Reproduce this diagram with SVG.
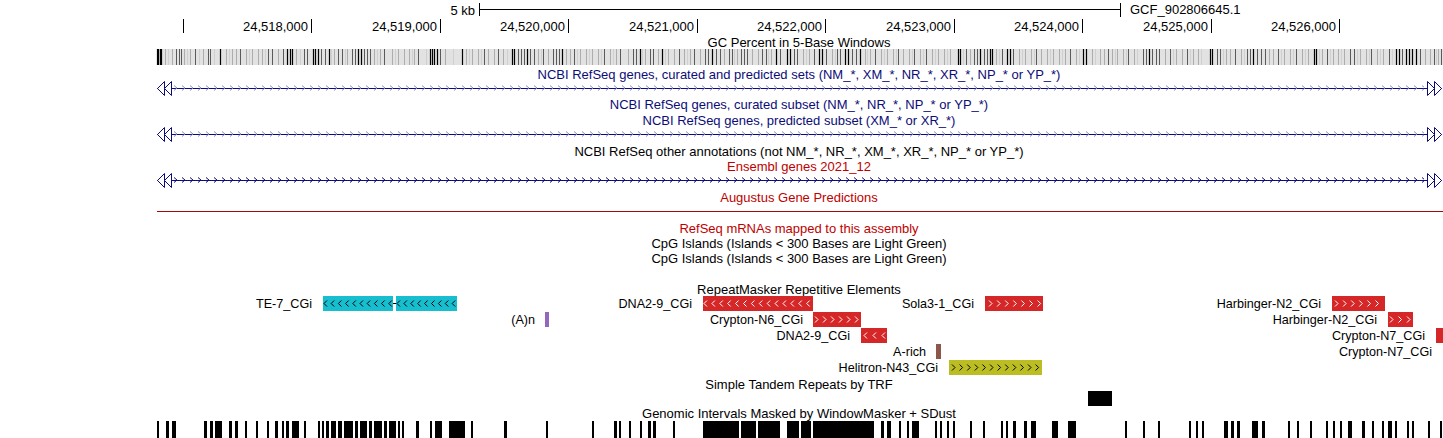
<svg xmlns="http://www.w3.org/2000/svg" width="1443" height="438" viewBox="0 0 1443 438">
<style>
text{font-family:"Liberation Sans",Arial,Helvetica,sans-serif}
.t{font-size:13px;text-anchor:middle;fill:#000}
.nv{fill:#0c0c78}
.rd{fill:#be0000}
.rl{font-size:13px;text-anchor:end;fill:#000}
.lb{font-size:12.6px;text-anchor:end;fill:#000}
.ax{stroke:#000;stroke-width:1;fill:none}
.gl{stroke:#0c0c78;stroke-width:1;fill:none}
.tri{stroke:#0c0c78;stroke-width:1;fill:#fff}
.cw{stroke:#fff;stroke-width:1;fill:none}
.cb{stroke:#000;stroke-width:1;fill:none}
.rep{fill:#d62728}
</style>
<defs>
<pattern id="chL" patternUnits="userSpaceOnUse" x="172" y="83" width="8" height="46">
<path d="M2,2.5 l3,2.5 -3,2.5" fill="none" stroke="#8c8cc8" stroke-width="1"/>
</pattern>
<pattern id="chD" patternUnits="userSpaceOnUse" x="172" y="83" width="8" height="46">
<path d="M2,2.5 l3,2.5 -3,2.5" fill="none" stroke="#0c0c78" stroke-width="1"/>
</pattern>
</defs>
<rect width="1443" height="438" fill="#fff"/>

<g id="ruler">
<text class="rl" x="475" y="14.5">5 kb</text>
<path class="ax" d="M479.5 3v13M479.5 9.5H1120.5M1120.5 3v14"/>
<text x="1130" y="14" font-size="13" fill="#000">GCF_902806645.1</text>
<path class="ax" d="M183.5 19v14M311.5 19v14M440.5 19v14M568.5 19v14M697.5 19v14M825.5 19v14M954.5 19v14M1082.5 19v14M1211.5 19v14M1339.5 19v14"/>
<text class="rl" x="308" y="31">24,518,000</text>
<text class="rl" x="437" y="31">24,519,000</text>
<text class="rl" x="565" y="31">24,520,000</text>
<text class="rl" x="694" y="31">24,521,000</text>
<text class="rl" x="822" y="31">24,522,000</text>
<text class="rl" x="951" y="31">24,523,000</text>
<text class="rl" x="1079" y="31">24,524,000</text>
<text class="rl" x="1208" y="31">24,525,000</text>
<text class="rl" x="1336" y="31">24,526,000</text>
</g>

<g id="gc-percent">
<text class="t" x="799" y="46.5">GC Percent in 5-Base Windows</text>
<rect x="157" y="49" width="1286" height="16" fill="#e2e2e2"/>
<path stroke="#d0d0d0" stroke-width="1" d="M168.5 49v16M187.5 49v16M199.5 49v16M214.5 49v16M229.5 49v16M249.5 49v16M265.5 49v16M300.5 49v16M331.5 49v16M345.5 49v16M377.5 49v16M395.5 49v16M412.5 49v16M426.5 49v16M453.5 49v16M469.5 49v16M481.5 49v16M507.5 49v16M541.5 49v16M577.5 49v16M589.5 49v16M601.5 49v16M613.5 49v16M642.5 49v16M665.5 49v16M687.5 49v16M734.5 49v16M768.5 49v16M806.5 49v16M835.5 49v16M867.5 49v16M884.5 49v16M896.5 49v16M912.5 49v16M923.5 49v16M935.5 49v16M947.5 49v16M963.5 49v16M999.5 49v16M1022.5 49v16M1034.5 49v16M1050.5 49v16M1062.5 49v16M1079.5 49v16M1095.5 49v16M1115.5 49v16M1126.5 49v16M1137.5 49v16M1173.5 49v16M1190.5 49v16M1201.5 49v16M1223.5 49v16M1244.5 49v16M1281.5 49v16M1293.5 49v16M1305.5 49v16M1319.5 49v16M1330.5 49v16M1341.5 49v16M1357.5 49v16M1369.5 49v16M1380.5 49v16M1392.5 49v16M1436.5 49v16"/>
<path stroke="#adadad" stroke-width="1" d="M165.5 49v16M172.5 49v16M184.5 49v16M190.5 49v16M203.5 49v16M226.5 49v16M232.5 49v16M236.5 49v16M246.5 49v16M252.5 49v16M258.5 49v16M262.5 49v16M278.5 49v16M296.5 49v16M334.5 49v16M347.5 49v16M374.5 49v16M380.5 49v16M392.5 49v16M398.5 49v16M404.5 49v16M409.5 49v16M414.5 49v16M445.5 49v16M466.5 49v16M472.5 49v16M478.5 49v16M488.5 49v16M494.5 49v16M503.5 49v16M538.5 49v16M548.5 49v16M566.5 49v16M570.5 49v16M580.5 49v16M586.5 49v16M592.5 49v16M598.5 49v16M610.5 49v16M616.5 49v16M628.5 49v16M645.5 49v16M658.5 49v16M668.5 49v16M674.5 49v16M684.5 49v16M690.5 49v16M700.5 49v16M724.5 49v16M737.5 49v16M752.5 49v16M758.5 49v16M771.5 49v16M803.5 49v16M809.5 49v16M832.5 49v16M865.5 49v16M870.5 49v16M881.5 49v16M887.5 49v16M893.5 49v16M903.5 49v16M909.5 49v16M920.5 49v16M932.5 49v16M938.5 49v16M944.5 49v16M950.5 49v16M970.5 49v16M996.5 49v16M1019.5 49v16M1025.5 49v16M1031.5 49v16M1041.5 49v16M1047.5 49v16M1053.5 49v16M1059.5 49v16M1065.5 49v16M1076.5 49v16M1092.5 49v16M1100.5 49v16M1104.5 49v16M1112.5 49v16M1117.5 49v16M1123.5 49v16M1134.5 49v16M1165.5 49v16M1176.5 49v16M1182.5 49v16M1193.5 49v16M1198.5 49v16M1226.5 49v16M1230.5 49v16M1241.5 49v16M1269.5 49v16M1273.5 49v16M1284.5 49v16M1290.5 49v16M1302.5 49v16M1308.5 49v16M1322.5 49v16M1333.5 49v16M1338.5 49v16M1344.5 49v16M1360.5 49v16M1366.5 49v16M1377.5 49v16M1383.5 49v16M1425.5 49v16M1430.5 49v16M1438.5 49v16"/>
<path stroke="#5a5a5a" stroke-width="1" d="M176.5 49v16M179.5 49v16M181.5 49v16M195.5 49v16M208.5 49v16M210.5 49v16M240.5 49v16M268.5 49v16M272.5 49v16M283.5 49v16M304.5 49v16M307.5 49v16M321.5 49v16M325.5 49v16M338.5 49v16M342.5 49v16M352.5 49v16M355.5 49v16M364.5 49v16M367.5 49v16M370.5 49v16M384.5 49v16M418.5 49v16M440.5 49v16M484.5 49v16M498.5 49v16M518.5 49v16M521.5 49v16M524.5 49v16M530.5 49v16M534.5 49v16M543.5 49v16M553.5 49v16M556.5 49v16M559.5 49v16M574.5 49v16M604.5 49v16M620.5 49v16M633.5 49v16M636.5 49v16M650.5 49v16M653.5 49v16M679.5 49v16M694.5 49v16M705.5 49v16M708.5 49v16M716.5 49v16M720.5 49v16M729.5 49v16M732.5 49v16M741.5 49v16M744.5 49v16M747.5 49v16M762.5 49v16M766.5 49v16M780.5 49v16M794.5 49v16M797.5 49v16M814.5 49v16M826.5 49v16M837.5 49v16M840.5 49v16M852.5 49v16M856.5 49v16M875.5 49v16M898.5 49v16M914.5 49v16M926.5 49v16M966.5 49v16M974.5 49v16M977.5 49v16M984.5 49v16M987.5 49v16M1002.5 49v16M1013.5 49v16M1036.5 49v16M1070.5 49v16M1108.5 49v16M1128.5 49v16M1143.5 49v16M1146.5 49v16M1152.5 49v16M1156.5 49v16M1159.5 49v16M1170.5 49v16M1187.5 49v16M1217.5 49v16M1220.5 49v16M1235.5 49v16M1247.5 49v16M1250.5 49v16M1257.5 49v16M1261.5 49v16M1265.5 49v16M1278.5 49v16M1296.5 49v16M1327.5 49v16M1350.5 49v16M1354.5 49v16M1371.5 49v16M1389.5 49v16M1402.5 49v16M1420.5 49v16M1434.5 49v16M1441.5 49v16"/>
<path stroke="#000" stroke-width="1.2" d="M157.5 49v16M158.5 49v16M160.5 49v16M161.5 49v16M220.5 49v16M287.5 49v16M290.5 49v16M292.5 49v16M313.5 49v16M315.5 49v16M318.5 49v16M329.5 49v16M358.5 49v16M361.5 49v16M430.5 49v16M432.5 49v16M434.5 49v16M437.5 49v16M462.5 49v16M512.5 49v16M514.5 49v16M527.5 49v16M562.5 49v16M640.5 49v16M662.5 49v16M712.5 49v16M776.5 49v16M787.5 49v16M790.5 49v16M819.5 49v16M822.5 49v16M845.5 49v16M848.5 49v16M860.5 49v16M958.5 49v16M960.5 49v16M980.5 49v16M990.5 49v16M992.5 49v16M1007.5 49v16M1010.5 49v16M1083.5 49v16M1086.5 49v16M1149.5 49v16M1210.5 49v16M1212.5 49v16M1253.5 49v16M1314.5 49v16M1316.5 49v16M1396.5 49v16M1399.5 49v16M1406.5 49v16M1409.5 49v16M1412.5 49v16M1416.5 49v16"/>
</g>

<g id="refseq-all">
<text class="t nv" x="799" y="78.5">NCBI RefSeq genes, curated and predicted sets (NM_*, XM_*, NR_*, XR_*, NP_* or YP_*)</text>
<path class="gl" d="M157 88.5H1442"/>
<rect x="172" y="83" width="1252" height="11" fill="url(#chL)"/>
<polygon class="tri" points="157.5,88.5 164.5,81.5 164.5,95.5"/>
<polygon class="tri" points="164.5,88.5 171.5,81.5 171.5,95.5"/>
<polygon class="tri" points="1441.5,88.5 1434.5,81.5 1434.5,95.5"/>
<polygon class="tri" points="1434.5,88.5 1427.5,81.5 1427.5,95.5"/>
</g>

<g id="refseq-curated">
<text class="t nv" x="799" y="108.5">NCBI RefSeq genes, curated subset (NM_*, NR_*, NP_* or YP_*)</text>
</g>

<g id="refseq-predicted">
<text class="t nv" x="799" y="124.5">NCBI RefSeq genes, predicted subset (XM_* or XR_*)</text>
<path class="gl" d="M157 134.5H1442"/>
<rect x="172" y="129" width="1252" height="11" fill="url(#chL)"/>
<polygon class="tri" points="157.5,134.5 164.5,127.5 164.5,141.5"/>
<polygon class="tri" points="164.5,134.5 171.5,127.5 171.5,141.5"/>
<polygon class="tri" points="1441.5,134.5 1434.5,127.5 1434.5,141.5"/>
<polygon class="tri" points="1434.5,134.5 1427.5,127.5 1427.5,141.5"/>
</g>

<g id="refseq-other">
<text class="t" x="799" y="155.5" fill="#222">NCBI RefSeq other annotations (not NM_*, NR_*, XM_*, XR_*, NP_* or YP_*)</text>
</g>

<g id="ensembl">
<text class="t rd" x="799" y="170.5">Ensembl genes 2021_12</text>
<path class="gl" d="M157 180.5H1442"/>
<rect x="172" y="175" width="1252" height="11" fill="url(#chD)"/>
<polygon class="tri" points="157.5,180.5 164.5,173.5 164.5,187.5"/>
<polygon class="tri" points="164.5,180.5 171.5,173.5 171.5,187.5"/>
<polygon class="tri" points="1441.5,180.5 1434.5,173.5 1434.5,187.5"/>
<polygon class="tri" points="1434.5,180.5 1427.5,173.5 1427.5,187.5"/>
</g>

<g id="augustus">
<text class="t rd" x="799" y="201.5">Augustus Gene Predictions</text>
<path d="M157 211.5H1443" stroke="#9c0a0a" stroke-width="1"/>
</g>

<g id="refseq-mrnas">
<text class="t rd" x="799" y="232.5">RefSeq mRNAs mapped to this assembly</text>
</g>
<g id="cpg-1">
<text class="t" x="799" y="247.5">CpG Islands (Islands &lt; 300 Bases are Light Green)</text>
</g>
<g id="cpg-2">
<text class="t" x="799" y="262.5">CpG Islands (Islands &lt; 300 Bases are Light Green)</text>
</g>

<g id="repeatmasker">
<text class="t" x="799" y="293.5">RepeatMasker Repetitive Elements</text>
<g id="te-7">
<text class="lb" x="312" y="308">TE-7_CGi</text>
<rect x="323" y="296" width="70" height="15" fill="#17becf"/>
<rect x="396" y="296" width="61" height="15" fill="#17becf"/>
<path class="cb" d="M327,300.5 l-3,3 3,3 m7.2,-6 l-3,3 3,3 m7.2,-6 l-3,3 3,3 m7.2,-6 l-3,3 3,3 m7.2,-6 l-3,3 3,3 m7.2,-6 l-3,3 3,3 m7.2,-6 l-3,3 3,3 m7.2,-6 l-3,3 3,3 m7.2,-6 l-3,3 3,3 m7.2,-6 l-3,3 3,3"/>
<path class="cb" d="M400,300.5 l-3,3 3,3 m6.9,-6 l-3,3 3,3 m6.9,-6 l-3,3 3,3 m6.9,-6 l-3,3 3,3 m6.9,-6 l-3,3 3,3 m6.9,-6 l-3,3 3,3 m6.9,-6 l-3,3 3,3 m6.9,-6 l-3,3 3,3 m6.9,-6 l-3,3 3,3"/>
</g>
<g id="a-n">
<text class="lb" x="535" y="324">(A)n</text>
<rect x="545" y="312" width="4" height="15" fill="#9467bd"/>
</g>
<g id="dna2-9-a">
<text class="lb" x="692" y="308">DNA2-9_CGi</text>
<rect class="rep" x="703" y="296" width="110" height="15"/>
<path class="cw" d="M707,300.5 l-3,3 3,3 m7.9,-6 l-3,3 3,3 m7.9,-6 l-3,3 3,3 m7.9,-6 l-3,3 3,3 m7.9,-6 l-3,3 3,3 m7.9,-6 l-3,3 3,3 m7.9,-6 l-3,3 3,3 m7.9,-6 l-3,3 3,3 m7.9,-6 l-3,3 3,3 m7.9,-6 l-3,3 3,3 m7.9,-6 l-3,3 3,3 m7.9,-6 l-3,3 3,3 m7.9,-6 l-3,3 3,3 m7.9,-6 l-3,3 3,3"/>
</g>
<g id="crypton-n6">
<text class="lb" x="803" y="324">Crypton-N6_CGi</text>
<rect class="rep" x="813" y="312" width="48" height="15"/>
<path class="cw" d="M815,316.5 l3,3 -3,3 m8,-6 l3,3 -3,3 m8,-6 l3,3 -3,3 m8,-6 l3,3 -3,3 m8,-6 l3,3 -3,3 m8,-6 l3,3 -3,3"/>
</g>
<g id="dna2-9-b">
<text class="lb" x="850" y="340">DNA2-9_CGi</text>
<rect class="rep" x="861" y="328" width="26" height="15"/>
<path class="cw" d="M867,332.5 l-3,3 3,3 m9,-6 l-3,3 3,3 m9,-6 l-3,3 3,3"/>
</g>
<g id="a-rich">
<text class="lb" x="926" y="356">A-rich</text>
<rect x="936" y="344" width="5" height="15" fill="#8c564b"/>
</g>
<g id="helitron-n43">
<text class="lb" x="938" y="372">Helitron-N43_CGi</text>
<rect x="949" y="360" width="93" height="15" fill="#bcbd22"/>
<path class="cb" d="M952,364.5 l3,3 -3,3 m7.6,-6 l3,3 -3,3 m7.6,-6 l3,3 -3,3 m7.6,-6 l3,3 -3,3 m7.6,-6 l3,3 -3,3 m7.6,-6 l3,3 -3,3 m7.6,-6 l3,3 -3,3 m7.6,-6 l3,3 -3,3 m7.6,-6 l3,3 -3,3 m7.6,-6 l3,3 -3,3 m7.6,-6 l3,3 -3,3 m7.6,-6 l3,3 -3,3"/>
</g>
<g id="sola3-1">
<text class="lb" x="974" y="308">Sola3-1_CGi</text>
<rect class="rep" x="985" y="296" width="58" height="15"/>
<path class="cw" d="M989,300.5 l3,3 -3,3 m8.1,-6 l3,3 -3,3 m8.1,-6 l3,3 -3,3 m8.1,-6 l3,3 -3,3 m8.1,-6 l3,3 -3,3 m8.1,-6 l3,3 -3,3 m8.1,-6 l3,3 -3,3"/>
</g>
<g id="harbinger-n2-a">
<text class="lb" x="1321" y="308">Harbinger-N2_CGi</text>
<rect class="rep" x="1332" y="296" width="53" height="15"/>
<path class="cw" d="M1335,300.5 l3,3 -3,3 m8.1,-6 l3,3 -3,3 m8.1,-6 l3,3 -3,3 m8.1,-6 l3,3 -3,3 m8.1,-6 l3,3 -3,3 m8.1,-6 l3,3 -3,3"/>
</g>
<g id="harbinger-n2-b">
<text class="lb" x="1377" y="324">Harbinger-N2_CGi</text>
<rect class="rep" x="1388" y="312" width="25" height="15"/>
<path class="cw" d="M1390,316.5 l3,3 -3,3 m8.5,-6 l3,3 -3,3 m8.5,-6 l3,3 -3,3"/>
</g>
<g id="crypton-n7-a">
<text class="lb" x="1425" y="340">Crypton-N7_CGi</text>
<rect class="rep" x="1436" y="328" width="7" height="15"/>
</g>
<g id="crypton-n7-b">
<text class="lb" x="1432" y="356">Crypton-N7_CGi</text>
</g>
</g>

<g id="connectors">
<path d="M393 303.5H396" stroke="#000" stroke-width="1"/>
</g>

<g id="trf">
<text class="t" x="799" y="388.5">Simple Tandem Repeats by TRF</text>
<rect x="1088" y="391" width="24" height="15" fill="#000"/>
</g>

<g id="windowmasker">
<text class="t" x="799" y="418">Genomic Intervals Masked by WindowMasker + SDust</text>
<path fill="#000" d="M157 421h2v17h-2zM166 421h3v17h-3zM172 421h4v17h-4zM204 421h3v17h-3zM210 421h3v17h-3zM215 421h7v17h-7zM229 421h3v17h-3zM235 421h3v17h-3zM245 421h2v17h-2zM256 421h2v17h-2zM267 421h2v17h-2zM275 421h3v17h-3zM282 421h2v17h-2zM286 421h3v17h-3zM292 421h7v17h-7zM304 421h2v17h-2zM318 421h2v17h-2zM322 421h2v17h-2zM326 421h3v17h-3zM331 421h5v17h-5zM338 421h4v17h-4zM344 421h9v17h-9zM355 421h3v17h-3zM360 421h7v17h-7zM369 421h3v17h-3zM374 421h8v17h-8zM384 421h3v17h-3zM389 421h7v17h-7zM398 421h2v17h-2zM402 421h2v17h-2zM416 421h3v17h-3zM430 421h2v17h-2zM435 421h7v17h-7zM449 421h16v17h-16zM471 421h2v17h-2zM504 421h3v17h-3zM546 421h2v17h-2zM592 421h2v17h-2zM614 421h3v17h-3zM619 421h2v17h-2zM629 421h2v17h-2zM640 421h2v17h-2zM648 421h3v17h-3zM653 421h3v17h-3zM673 421h2v17h-2zM703 421h36v17h-36zM741 421h15v17h-15zM758 421h22v17h-22zM787 421h12v17h-12zM801 421h10v17h-10zM813 421h61v17h-61zM881 421h3v17h-3zM887 421h4v17h-4zM899 421h2v17h-2zM907 421h2v17h-2zM912 421h7v17h-7zM935 421h2v17h-2zM940 421h2v17h-2zM947 421h2v17h-2zM953 421h2v17h-2zM970 421h2v17h-2zM983 421h2v17h-2zM1001 421h2v17h-2zM1006 421h2v17h-2zM1013 421h3v17h-3zM1024 421h3v17h-3zM1031 421h5v17h-5zM1052 421h6v17h-6zM1068 421h8v17h-8zM1125 421h2v17h-2zM1143 421h2v17h-2zM1158 421h2v17h-2zM1189 421h2v17h-2zM1196 421h2v17h-2zM1202 421h2v17h-2zM1224 421h4v17h-4zM1231 421h3v17h-3zM1237 421h3v17h-3zM1252 421h6v17h-6zM1262 421h3v17h-3zM1288 421h2v17h-2zM1297 421h2v17h-2zM1310 421h2v17h-2zM1326 421h2v17h-2zM1333 421h2v17h-2zM1340 421h2v17h-2zM1348 421h4v17h-4zM1362 421h3v17h-3zM1372 421h2v17h-2zM1382 421h2v17h-2zM1388 421h4v17h-4zM1395 421h2v17h-2zM1407 421h2v17h-2zM1412 421h2v17h-2zM1428 421h2v17h-2zM1440 421h2v17h-2z"/>
</g>
</svg>
